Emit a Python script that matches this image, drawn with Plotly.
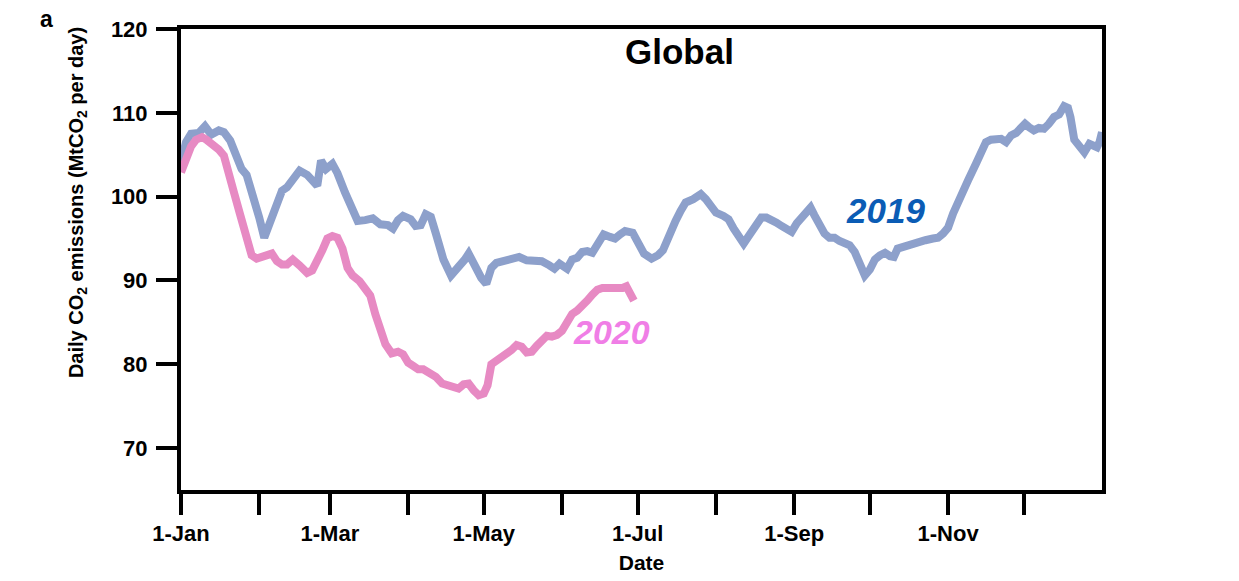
import plotly.graph_objects as go

# Day of year (0 = 1 Jan) and daily global CO2 emissions (MtCO2 per day)
days_2019 = [0, 2, 4, 7, 9.5, 12, 15, 17, 19.5, 22, 24, 26, 28.5, 31, 33, 35, 37, 40, 42, 45, 47, 50, 52, 54,
             55.5, 57.5, 60, 62, 65, 68, 70, 73, 76, 79, 82, 84, 86, 88, 91, 93, 95, 97, 99, 101, 104, 107,
             110, 112.5, 114, 116, 119, 121, 123, 125, 128, 131, 134, 137, 140, 143, 146, 148, 150, 151.5,
             153, 155, 157, 159, 161, 163, 165, 167.5, 170, 172, 174, 176, 179, 181, 183.5, 186.5, 189, 191,
             193, 196, 198, 200, 203, 206, 208, 210, 212, 215, 217, 219, 221, 223, 225, 227, 230, 232, 234,
             236, 238, 240, 242, 244, 246, 249.5, 251, 253, 255, 257, 259, 261, 263, 265, 267, 269, 271, 273,
             275, 277, 279, 281, 282.5, 284, 286, 288, 290, 292, 295, 298, 300, 302, 304, 306, 308, 310, 312,
             315, 317, 319, 321, 323, 325, 327, 329, 331, 333, 334.5, 336, 338, 340, 342, 344, 346, 348, 350,
             351.5, 352.5, 354, 356, 358, 360, 361.5, 363, 364, 365]
values_2019 = [104.2, 106.5, 107.5, 107.6, 108.4, 107.4, 107.9, 107.7, 106.7, 104.8, 103.3, 102.6, 100.3, 97.5,
               95.1, 96.8, 98.8, 100.7, 101.1, 102.5, 103.1, 102.6, 102.1, 101.3, 104.3, 103.3, 103.9, 102.8,
               100.5, 98.5, 97.1, 97.2, 97.4, 96.7, 96.6, 96.2, 97.2, 97.7, 97.3, 96.5, 96.6, 97.9, 97.6, 95.6,
               92.5, 90.6, 91.5, 92.5, 93.2, 91.8, 90.3, 89.6, 91.5, 92.1, 92.3, 92.5, 92.8, 92.4, 92.3, 92.3,
               91.8, 91.4, 92.0, 91.8, 91.4, 92.5, 92.7, 93.4, 93.5, 93.3, 94.5, 95.5, 95.2, 95.0, 95.5, 95.9,
               95.7, 94.5, 93.2, 92.6, 93.0, 93.6, 95.2, 97.1, 98.3, 99.3, 99.7, 100.3, 99.7, 98.8, 98.1, 97.7,
               97.3, 96.2, 95.2, 94.4, 95.3, 96.2, 97.5, 97.5, 97.3, 96.9, 96.5, 96.0, 95.8, 96.8, 97.6, 98.7,
               97.8, 96.6, 95.6, 95.1, 95.1, 94.7, 94.5, 94.2, 93.4, 92.0, 90.6, 91.3, 92.5, 93.0, 93.3, 92.9,
               92.8, 93.8, 94.0, 94.3, 94.5, 94.7, 94.8, 95.0, 95.1, 95.6, 96.3, 98.0, 99.5, 100.8, 102.0, 103.9,
               105.5, 106.5, 106.8, 106.9, 106.9, 106.5, 107.3, 107.6, 108.2, 108.7, 108.3, 107.9, 108.2, 108.1,
               108.7, 109.5, 109.8, 110.8, 110.6, 109.5, 106.8, 106.0, 105.3, 106.3, 106.1, 105.9, 106.5, 107.7]

days_2020 = [0, 2, 4, 6, 8.3, 10, 12.7, 15, 17, 19.4, 21, 23.3, 25, 26.5, 28, 30, 33, 36, 38, 40, 42, 44.3, 47,
             50, 52, 54, 56, 58, 60, 62, 64, 66, 68, 70.8, 73, 75, 77, 79, 81, 83.5, 86, 88, 90, 92, 94, 96, 99,
             101, 103.5, 106, 108, 110, 112, 114, 116, 118, 120, 121.5, 123, 125, 127, 129, 131, 133, 135, 137,
             139, 141, 143, 145, 147, 149, 151, 153, 155, 157, 159, 161, 163, 165, 167, 169, 171, 173, 175,
             176.5, 178, 179.5]
values_2020 = [102.9, 104.8, 106.0, 106.8, 107.1, 106.8, 106.3, 105.6, 104.9, 102.7, 100.5, 98.0, 96.2, 94.4,
               93.0, 92.6, 92.8, 93.2, 92.3, 91.9, 91.9, 92.5, 91.8, 90.9, 91.2, 92.2, 93.6, 95.0, 95.3, 95.1,
               93.8, 91.5, 90.6, 89.9, 88.8, 88.2, 86.0, 84.3, 82.4, 81.3, 81.5, 81.2, 80.2, 79.8, 79.4, 79.4,
               78.9, 78.5, 77.7, 77.4, 77.1, 77.1, 77.6, 77.7, 76.9, 76.3, 76.5, 77.5, 80.0, 80.4, 80.8, 81.2,
               81.7, 82.3, 82.1, 81.4, 81.5, 82.2, 82.9, 83.4, 83.3, 83.5, 84.0, 85.0, 86.0, 86.4, 86.9, 87.6,
               88.3, 88.9, 89.1, 89.1, 89.1, 89.0, 89.1, 89.3, 88.5, 87.6]

x_tick_vals = [0, 59, 120, 181, 243, 304]
x_tick_text = ["1-Jan", "1-Mar", "1-May", "1-Jul", "1-Sep", "1-Nov"]
x_minor_tick_vals = [31, 90, 151, 212, 273, 334]
y_tick_vals = [70, 80, 90, 100, 110, 120]

FONT = "Liberation Sans, Arial, Helvetica, sans-serif"

fig = go.Figure()
fig.add_trace(go.Scatter(x=days_2019, y=values_2019, mode="lines",
                         line=dict(color="#8da0cb", width=8), name="2019", showlegend=False))
fig.add_trace(go.Scatter(x=days_2020, y=values_2020, mode="lines",
                         line=dict(color="#e78ac3", width=8), name="2020", showlegend=False))

axis_common = dict(showgrid=False, zeroline=False, showline=True, linecolor="black", linewidth=4,
                   mirror=True, ticks="outside", tickwidth=4, tickcolor="black", ticklen=21,
                   automargin=False,
                   tickfont=dict(family=FONT, size=22, color="black", weight="bold"))

fig.update_xaxes(range=[0, 365], tickvals=x_tick_vals, ticktext=x_tick_text,
                 minor=dict(tickvals=x_minor_tick_vals, ticks="outside", ticklen=21, tickwidth=4,
                            tickcolor="black", showgrid=False),
                 title=dict(text="Date", font=dict(family=FONT, size=21, color="black", weight="bold"),
                            standoff=11),
                 **axis_common)
fig.update_yaxes(range=[65, 120], tickvals=y_tick_vals, ticklabelstandoff=4, **axis_common)

annotations = [
    dict(x=197.5, y=117.3, xref="x", yref="y", text="<b>Global</b>", showarrow=False,
         font=dict(family=FONT, size=35, color="black")),
    dict(x=279, y=98.4, xref="x", yref="y", text="<b><i>2019</i></b>", showarrow=False,
         font=dict(family=FONT, size=35, color="#0b5cb5")),
    dict(x=170.8, y=83.9, xref="x", yref="y", text="<b><i>2020</i></b>", showarrow=False,
         font=dict(family=FONT, size=34, color="#f07ee6")),
    dict(x=-0.155, y=1.054, xref="paper", yref="paper", text="<b>a</b>", showarrow=False,
         font=dict(family=FONT, size=23, color="black")),
    dict(x=-0.128, y=99.3, xref="paper", yref="y", textangle=-90,
         text="<b>Daily CO<sub>2</sub> emissions (MtCO<sub>2</sub> per day)</b>", showarrow=False,
         font=dict(family=FONT, size=20, color="black")),
]

fig.update_layout(width=1239, height=581, margin=dict(l=181, r=137, t=29, b=91),
                  plot_bgcolor="white", paper_bgcolor="white", annotations=annotations)

fig.write_html("out.html")
